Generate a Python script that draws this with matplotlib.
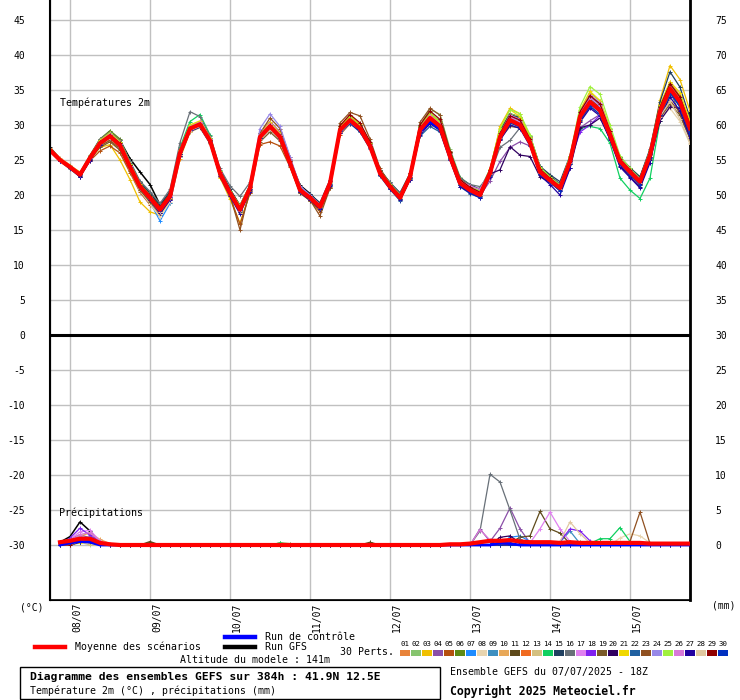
"""GEFS ensemble diagram (Meteociel style): 2m temperature + precipitation."""
import numpy as np
import matplotlib
matplotlib.use("Agg")
import matplotlib.pyplot as plt
from matplotlib.patches import Rectangle
from matplotlib.lines import Line2D

MONO = "DejaVu Sans Mono"
W, H = 740, 700

# time axis: 3-hourly steps from 07/07 18Z (hours since run start)
hours = np.arange(65) * 3.0
day_ticks = [6, 30, 54, 78, 102, 126, 150, 174]
day_labels = ["08/07", "09/07", "10/07", "11/07", "12/07", "13/07", "14/07", "15/07"]

member_colors = ["#e8833a", "#86c46e", "#f0c000", "#8b4fa8", "#b5500f", "#5e8a14",
                 "#1e8cff", "#e8d5b0", "#3e8fc0", "#e8a858", "#5e4a1a", "#f06a20",
                 "#d4c080", "#10d060", "#204060", "#687078", "#e080f0", "#8020f0",
                 "#7a5a28", "#300060", "#f0d800", "#2060a0", "#905020", "#9888e8",
                 "#a0f040", "#d878d8", "#2000a0", "#e0c8a0", "#900000", "#0030c0"]

mean_temp = [26.4, 25.0, 24.0, 22.9, 25.3, 27.4, 28.4, 27.1, 24.0, 21.2, 19.6, 17.9, 19.8,
             26.0, 29.5, 30.1, 27.8, 23.1, 20.3, 17.9, 21.0, 28.3, 29.8, 28.3, 24.6, 20.7,
             19.6, 18.3, 21.7, 29.3, 30.7, 29.5, 27.0, 23.1, 21.2, 19.6, 22.6, 29.3, 31.0,
             29.8, 25.5, 21.7, 20.7, 20.0, 23.1, 28.3, 30.7, 30.0, 27.5, 23.3, 22.1, 21.0,
             24.8, 31.2, 33.3, 32.1, 28.6, 24.8, 23.3, 21.9, 25.7, 31.9, 35.2, 33.3, 29.5]

control_temp = [26.4, 25.0, 24.0, 22.9, 25.3, 27.4, 28.5, 27.2, 24.1, 21.2, 19.5, 17.7, 19.6,
                25.9, 29.5, 30.1, 27.8, 23.1, 20.3, 17.8, 20.9, 28.3, 29.8, 28.3, 24.6, 20.7,
                19.6, 18.3, 21.7, 29.3, 30.7, 29.5, 27.0, 23.1, 21.1, 19.5, 22.5, 29.0, 30.4,
                29.4, 25.3, 21.6, 20.5, 19.9, 23.0, 28.2, 30.6, 29.9, 27.4, 23.2, 22.0, 20.9,
                24.7, 31.0, 33.1, 31.9, 28.5, 24.7, 23.2, 21.8, 25.6, 31.8, 35.0, 33.1, 29.4]

gfs_temp = [26.8, 25.2, 24.0, 23.0, 25.4, 27.9, 28.7, 27.8, 25.2, 23.3, 21.5, 18.6, 20.0,
            26.2, 29.7, 30.3, 28.1, 23.5, 20.8, 18.5, 21.3, 28.4, 30.0, 28.6, 25.0, 21.4,
            20.2, 18.7, 21.9, 29.6, 31.1, 30.0, 27.5, 23.6, 21.5, 19.9, 23.0, 29.8, 31.6,
            30.5, 26.1, 22.4, 21.3, 20.6, 23.6, 29.2, 31.6, 31.1, 28.4, 24.0, 22.7, 21.5,
            25.4, 31.9, 34.1, 32.9, 29.2, 25.3, 23.7, 22.4, 26.2, 32.4, 35.6, 33.7, 29.9]

pert_temp = [
    [26.6, 25.2, 24.1, 23.0, 25.6, 27.8, 28.6, 27.3, 24.3, 21.5, 19.8, 18.2, 20.2, 26.5, 30.0, 30.4, 28.0, 23.4, 20.0, 17.6, 20.6, 28.8, 30.2, 28.6, 24.9, 20.9, 19.8, 18.6, 22.0, 29.8, 31.0, 29.9, 27.3, 23.5, 21.6, 19.9, 23.0, 29.6, 31.5, 30.3, 25.8, 22.0, 21.0, 20.3, 23.6, 28.8, 31.4, 30.6, 27.9, 23.8, 22.5, 21.3, 25.2, 31.8, 34.0, 32.8, 29.2, 25.4, 23.9, 22.5, 26.4, 32.8, 36.1, 34.2, 30.4],
    [26.3, 24.8, 23.8, 22.7, 25.4, 27.9, 29.1, 27.9, 24.8, 21.8, 20.2, 18.5, 20.4, 26.3, 29.8, 30.3, 27.6, 22.9, 20.6, 18.2, 21.2, 28.1, 29.6, 28.2, 24.5, 20.5, 19.4, 18.0, 21.5, 29.6, 31.0, 29.8, 27.2, 23.3, 21.3, 19.8, 22.8, 29.9, 32.3, 31.5, 26.6, 22.6, 21.4, 20.6, 23.5, 29.0, 31.6, 31.2, 28.4, 23.7, 22.4, 21.2, 25.3, 32.0, 34.6, 33.4, 29.6, 25.4, 23.8, 22.6, 26.3, 32.4, 35.6, 33.6, 29.8],
    [26.5, 25.1, 24.2, 23.3, 25.0, 26.8, 27.2, 25.0, 22.2, 19.0, 17.6, 17.1, 18.9, 25.2, 29.0, 29.8, 27.6, 22.5, 19.4, 16.0, 20.3, 28.6, 30.3, 28.9, 25.0, 20.8, 19.5, 18.2, 21.6, 29.5, 30.8, 29.6, 27.1, 23.0, 21.0, 19.3, 22.4, 29.6, 31.4, 30.2, 25.7, 21.8, 20.8, 20.1, 23.3, 29.8, 32.4, 31.6, 28.3, 23.9, 22.6, 21.2, 25.4, 31.8, 34.4, 33.0, 29.0, 25.0, 23.5, 22.0, 26.2, 33.6, 38.5, 36.5, 32.0],
    [26.2, 24.9, 23.9, 22.6, 25.0, 27.2, 28.2, 26.9, 23.9, 21.1, 19.4, 17.6, 19.4, 25.8, 29.7, 30.5, 28.1, 23.3, 20.4, 18.0, 21.3, 28.9, 30.5, 29.0, 25.1, 20.9, 19.8, 18.5, 22.0, 29.5, 31.0, 29.7, 27.2, 23.4, 21.7, 20.3, 22.6, 28.9, 30.8, 29.5, 25.3, 21.5, 20.6, 19.9, 22.0, 24.8, 26.8, 27.6, 27.0, 23.1, 22.0, 20.8, 24.4, 29.6, 30.6, 31.5, 28.8, 24.9, 23.0, 21.5, 25.3, 31.6, 34.6, 33.1, 29.4],
    [26.6, 25.2, 24.0, 22.8, 24.9, 26.3, 27.0, 26.0, 23.2, 20.4, 18.6, 17.2, 19.3, 25.6, 29.2, 29.9, 27.5, 22.6, 19.8, 15.8, 20.3, 27.2, 27.6, 27.0, 24.0, 20.3, 19.2, 17.6, 21.0, 28.6, 30.2, 29.3, 27.0, 23.3, 21.5, 19.8, 22.4, 29.5, 31.3, 30.0, 25.8, 22.0, 21.0, 20.3, 23.4, 28.6, 30.9, 30.2, 27.7, 23.5, 22.3, 21.1, 25.0, 31.3, 33.6, 32.4, 28.9, 24.9, 23.4, 22.0, 25.8, 31.6, 34.6, 32.8, 28.8],
    [26.4, 25.1, 24.1, 23.2, 25.7, 28.0, 29.2, 28.0, 24.6, 21.6, 20.0, 18.4, 20.1, 26.2, 29.7, 30.2, 27.9, 23.2, 20.3, 17.8, 20.9, 28.4, 29.9, 28.4, 24.7, 20.8, 19.7, 18.4, 21.8, 29.2, 30.6, 29.4, 26.9, 23.0, 21.1, 19.5, 22.5, 29.4, 31.2, 30.0, 25.6, 21.8, 20.8, 20.2, 23.3, 28.5, 31.0, 30.3, 27.6, 23.4, 22.2, 21.1, 24.9, 31.4, 33.7, 32.5, 28.8, 24.8, 23.3, 21.9, 25.9, 32.2, 35.4, 33.6, 29.9],
    [26.3, 24.9, 23.9, 22.8, 25.2, 27.3, 28.3, 27.0, 23.9, 20.9, 19.0, 16.3, 18.8, 25.4, 29.3, 30.0, 27.7, 22.9, 20.1, 17.6, 20.8, 28.0, 29.5, 28.0, 24.3, 20.4, 19.3, 18.0, 21.3, 29.0, 30.4, 29.2, 26.8, 22.9, 21.0, 19.3, 22.3, 29.0, 30.6, 29.4, 25.2, 21.4, 20.4, 19.8, 22.8, 28.0, 30.4, 29.8, 27.3, 23.1, 21.9, 20.7, 24.6, 30.8, 33.0, 31.8, 28.3, 24.5, 23.0, 21.6, 25.4, 31.5, 34.7, 32.9, 29.1],
    [26.5, 25.0, 24.0, 22.9, 25.1, 27.1, 28.0, 26.6, 23.5, 20.6, 18.7, 16.9, 19.0, 25.7, 29.2, 29.8, 27.5, 22.8, 20.0, 17.4, 20.6, 27.8, 29.3, 27.9, 24.3, 20.5, 19.3, 18.0, 21.3, 28.8, 30.3, 29.2, 26.8, 22.9, 21.1, 19.4, 22.4, 29.1, 30.8, 29.6, 25.3, 21.6, 20.5, 19.9, 22.9, 28.4, 30.8, 30.1, 27.6, 23.4, 22.2, 20.9, 24.7, 30.6, 32.6, 31.4, 28.0, 24.4, 23.0, 21.5, 25.0, 30.8, 32.4, 30.5, 27.3],
    [26.4, 25.0, 24.1, 22.9, 25.3, 27.5, 28.5, 27.2, 24.1, 21.3, 19.5, 17.5, 19.5, 25.9, 29.4, 30.0, 27.7, 23.0, 20.2, 17.7, 20.9, 28.2, 29.7, 28.2, 24.5, 20.6, 19.4, 18.1, 21.5, 29.1, 30.5, 29.3, 26.9, 22.9, 21.1, 19.4, 22.5, 29.3, 30.9, 29.7, 25.4, 21.6, 20.6, 19.9, 23.0, 28.2, 30.6, 30.0, 27.5, 23.2, 22.0, 20.9, 24.6, 31.0, 33.1, 31.9, 28.5, 24.6, 23.1, 21.7, 25.5, 31.6, 34.8, 32.7, 28.4],
    [26.7, 25.3, 24.3, 23.1, 25.5, 27.6, 28.4, 27.1, 24.2, 21.4, 19.6, 17.8, 19.9, 26.1, 29.6, 30.2, 27.9, 23.2, 20.4, 17.9, 21.1, 28.5, 30.0, 28.5, 24.8, 20.9, 19.8, 18.5, 21.9, 29.4, 30.9, 29.7, 27.2, 23.2, 21.3, 19.7, 22.8, 29.4, 31.1, 29.9, 25.6, 21.8, 20.8, 20.1, 23.2, 28.4, 30.8, 30.2, 27.6, 23.4, 22.2, 21.0, 24.8, 31.3, 33.4, 32.2, 28.7, 24.9, 23.4, 22.0, 25.8, 31.9, 35.0, 33.1, 29.2],
    [26.3, 24.9, 23.8, 22.6, 25.0, 27.4, 28.5, 27.4, 24.5, 21.8, 20.2, 18.6, 20.3, 26.1, 29.5, 30.1, 27.8, 23.2, 20.5, 18.1, 21.2, 28.3, 29.8, 28.4, 24.8, 20.9, 19.8, 18.5, 21.8, 29.4, 31.0, 29.9, 27.4, 23.4, 21.5, 19.9, 22.9, 29.8, 31.6, 30.4, 26.0, 22.1, 21.1, 20.4, 23.5, 29.2, 31.5, 30.8, 28.1, 23.8, 22.5, 21.4, 25.1, 31.6, 33.8, 32.6, 29.1, 25.2, 23.7, 22.3, 26.1, 32.4, 35.6, 33.7, 29.8],
    [26.5, 25.1, 24.0, 23.0, 25.4, 27.6, 28.7, 27.4, 24.3, 21.4, 19.8, 18.1, 20.0, 26.2, 29.7, 30.3, 28.0, 23.3, 20.5, 18.0, 21.0, 28.4, 29.9, 28.4, 24.7, 20.8, 19.7, 18.4, 21.8, 29.3, 30.7, 29.5, 27.0, 23.1, 21.2, 19.6, 22.6, 29.3, 31.0, 29.8, 25.5, 21.7, 20.7, 20.0, 23.1, 28.3, 30.7, 30.0, 27.5, 23.3, 22.1, 21.0, 24.8, 31.2, 33.3, 32.1, 28.6, 24.8, 23.3, 21.9, 25.7, 31.9, 35.2, 33.3, 29.5],
    [26.4, 24.9, 23.9, 22.8, 25.1, 27.0, 27.9, 26.7, 23.7, 20.9, 19.2, 17.5, 19.4, 25.5, 29.0, 29.6, 27.3, 22.7, 19.9, 17.5, 20.6, 27.9, 29.4, 28.0, 24.3, 20.4, 19.3, 18.0, 21.4, 28.9, 30.3, 29.1, 26.7, 22.8, 20.9, 19.3, 22.2, 28.9, 30.6, 29.4, 25.1, 21.4, 20.4, 19.7, 22.8, 27.9, 30.2, 29.6, 27.1, 23.0, 21.8, 20.7, 24.4, 30.7, 32.8, 31.6, 28.2, 24.4, 22.9, 21.5, 25.3, 31.4, 34.6, 32.6, 28.6],
    [26.3, 25.0, 24.0, 22.9, 25.4, 27.7, 28.8, 27.6, 24.4, 21.5, 19.9, 18.2, 20.3, 26.8, 30.5, 31.5, 28.6, 23.6, 20.6, 18.2, 21.2, 28.6, 30.1, 28.6, 24.8, 20.8, 19.6, 18.3, 21.7, 29.3, 30.8, 29.6, 27.1, 23.2, 21.3, 19.8, 22.8, 29.5, 31.3, 30.0, 25.7, 21.9, 20.9, 20.2, 23.3, 28.6, 30.9, 30.3, 27.7, 23.5, 22.2, 21.1, 25.0, 29.5, 29.8, 29.5, 27.4, 22.4, 20.7, 19.5, 22.4, 30.6, 34.4, 33.0, 29.4],
    [26.5, 25.1, 24.1, 23.1, 25.4, 27.5, 28.6, 27.5, 24.6, 21.8, 20.3, 18.6, 20.5, 26.3, 29.8, 30.4, 28.1, 23.5, 20.8, 18.4, 21.4, 28.5, 30.1, 28.7, 25.0, 21.2, 20.1, 18.9, 22.2, 29.5, 31.0, 29.9, 27.4, 23.6, 21.8, 20.3, 23.1, 29.7, 31.5, 30.4, 26.2, 22.4, 21.5, 20.8, 23.6, 29.0, 31.4, 30.9, 28.3, 24.1, 22.9, 21.9, 25.6, 31.9, 34.1, 32.9, 29.4, 25.4, 23.9, 22.6, 26.6, 33.3, 37.6, 35.4, 31.0],
    [26.2, 24.8, 23.7, 22.6, 25.6, 28.0, 29.0, 27.8, 24.8, 22.0, 20.5, 18.8, 20.8, 27.5, 31.9, 31.2, 28.4, 23.8, 21.3, 19.8, 21.8, 28.6, 30.2, 28.7, 24.9, 21.0, 19.9, 18.6, 22.0, 29.5, 31.0, 29.8, 27.4, 23.5, 21.8, 20.2, 22.6, 29.4, 31.0, 29.9, 25.9, 22.4, 21.5, 21.2, 23.0, 26.8, 27.8, 29.6, 27.8, 23.6, 22.6, 21.6, 25.0, 30.8, 33.0, 31.6, 28.2, 24.5, 23.2, 22.0, 25.9, 32.5, 35.0, 31.4, 28.2],
    [26.4, 25.0, 24.0, 22.9, 25.3, 27.6, 28.6, 27.3, 24.2, 21.3, 19.7, 18.0, 19.9, 26.2, 29.9, 30.5, 28.0, 23.2, 20.4, 18.0, 21.1, 28.7, 30.4, 28.8, 25.0, 21.0, 19.9, 18.6, 22.0, 29.5, 31.0, 29.8, 27.3, 23.4, 21.4, 19.8, 22.8, 29.6, 31.4, 30.2, 25.9, 22.0, 21.1, 20.5, 23.4, 28.8, 31.4, 30.8, 28.0, 23.7, 22.4, 21.3, 25.0, 31.6, 33.9, 32.7, 29.0, 25.1, 23.6, 22.2, 26.0, 32.3, 35.5, 33.6, 29.7],
    [26.3, 24.9, 23.9, 22.8, 25.2, 27.3, 28.3, 27.0, 23.9, 21.1, 19.5, 17.8, 19.7, 25.9, 29.4, 30.0, 27.7, 23.0, 20.2, 17.8, 20.9, 28.2, 29.7, 28.2, 24.5, 20.6, 19.5, 18.2, 21.6, 29.2, 30.6, 29.4, 26.9, 23.0, 21.1, 19.5, 22.5, 29.2, 30.9, 29.7, 25.4, 21.6, 20.6, 19.9, 22.9, 28.2, 30.6, 29.9, 27.4, 23.2, 22.0, 20.9, 24.7, 29.0, 30.0, 31.4, 28.2, 24.5, 23.1, 21.7, 25.5, 31.7, 35.0, 33.0, 29.2],
    [26.5, 25.1, 24.1, 23.0, 25.2, 26.8, 27.6, 26.4, 23.5, 20.7, 19.0, 17.4, 19.4, 25.6, 29.1, 29.7, 27.4, 22.7, 20.0, 17.6, 20.6, 27.6, 29.0, 27.7, 24.1, 20.3, 19.2, 17.9, 21.2, 29.0, 30.4, 29.2, 26.8, 22.9, 21.0, 19.4, 22.3, 29.0, 30.7, 29.5, 25.2, 21.5, 20.5, 19.8, 22.9, 28.0, 29.8, 29.6, 27.2, 23.1, 21.9, 20.8, 24.5, 30.6, 32.7, 31.6, 28.2, 24.5, 23.0, 21.6, 25.2, 31.0, 33.0, 31.4, 28.0],
    [26.4, 25.0, 23.9, 22.7, 25.0, 27.2, 28.3, 27.1, 24.1, 21.3, 19.6, 17.8, 19.6, 25.8, 29.3, 29.9, 27.6, 22.9, 20.1, 17.7, 20.7, 28.1, 29.6, 28.1, 24.4, 20.5, 19.3, 18.0, 21.4, 29.0, 30.4, 29.3, 26.9, 23.0, 21.1, 19.5, 22.4, 28.9, 30.5, 29.4, 25.3, 21.6, 20.7, 20.2, 23.0, 23.6, 26.9, 25.7, 25.5, 22.6, 21.8, 20.6, 23.8, 29.6, 30.0, 31.0, 28.0, 24.2, 22.6, 21.2, 25.0, 30.6, 32.6, 32.4, 28.8],
    [26.6, 25.2, 24.2, 23.1, 25.5, 27.8, 28.9, 27.6, 24.5, 21.6, 19.9, 18.1, 20.2, 26.4, 30.0, 30.6, 28.2, 23.4, 20.5, 18.0, 21.2, 28.8, 30.4, 28.8, 24.9, 20.8, 19.6, 18.3, 21.9, 29.8, 31.3, 30.1, 27.5, 23.5, 21.5, 19.9, 23.0, 29.7, 31.6, 30.3, 25.8, 21.8, 20.8, 20.2, 23.7, 29.6, 32.2, 31.2, 28.3, 23.8, 22.4, 21.2, 25.4, 32.1, 34.8, 33.5, 29.5, 25.2, 23.6, 22.2, 26.2, 32.8, 36.2, 34.6, 30.6],
    [26.4, 25.1, 24.1, 22.9, 25.2, 27.4, 28.4, 27.1, 24.0, 21.2, 19.5, 17.7, 19.6, 25.8, 29.3, 29.9, 27.6, 22.9, 20.1, 17.7, 20.8, 28.1, 29.6, 28.1, 24.4, 20.5, 19.4, 18.1, 21.5, 28.9, 30.2, 29.0, 26.6, 22.7, 20.8, 19.2, 22.2, 28.4, 29.8, 29.0, 25.0, 21.2, 20.2, 19.6, 22.7, 28.1, 30.6, 30.0, 27.5, 23.2, 22.0, 20.9, 24.6, 30.9, 33.0, 31.8, 28.4, 24.6, 23.1, 21.7, 25.5, 31.4, 34.5, 32.6, 28.9],
    [26.6, 25.2, 24.1, 23.0, 25.3, 27.0, 27.8, 26.6, 23.8, 21.0, 19.3, 17.5, 19.6, 25.8, 29.3, 29.9, 27.6, 22.9, 20.0, 15.0, 20.8, 28.8, 31.0, 29.5, 25.4, 21.0, 19.3, 17.0, 21.0, 30.3, 31.8, 31.3, 28.0, 23.8, 21.6, 19.5, 22.6, 30.4, 32.4, 31.4, 26.3, 22.2, 21.2, 20.4, 23.5, 28.4, 30.6, 30.0, 27.6, 23.4, 22.2, 21.0, 24.9, 31.0, 33.0, 31.7, 28.3, 24.6, 23.1, 21.6, 25.4, 31.0, 33.5, 31.8, 28.4],
    [26.3, 24.9, 23.9, 22.8, 25.3, 27.5, 28.6, 27.3, 24.2, 21.4, 19.7, 18.0, 20.0, 26.2, 29.7, 30.3, 28.0, 23.3, 20.4, 18.0, 21.4, 29.5, 31.6, 29.8, 25.5, 21.3, 20.0, 18.6, 22.0, 29.5, 30.9, 29.7, 27.2, 23.3, 21.4, 19.8, 22.8, 29.6, 31.3, 30.1, 25.8, 21.9, 20.9, 20.3, 23.4, 28.7, 31.2, 30.6, 27.8, 23.6, 22.3, 21.2, 25.1, 31.6, 34.1, 32.9, 29.1, 25.1, 23.6, 22.2, 26.0, 32.4, 35.7, 33.8, 29.9],
    [26.5, 25.1, 24.1, 23.0, 25.4, 27.7, 28.8, 27.5, 24.4, 21.5, 19.9, 18.2, 20.1, 26.3, 29.8, 30.4, 28.1, 23.4, 20.6, 18.5, 21.4, 28.6, 30.1, 28.6, 24.8, 20.9, 19.8, 18.5, 21.9, 29.6, 31.1, 29.9, 27.4, 23.5, 21.6, 20.0, 23.0, 29.9, 31.8, 30.5, 26.1, 22.2, 21.2, 20.6, 23.7, 29.4, 32.2, 31.6, 28.6, 24.0, 22.6, 21.4, 25.6, 32.6, 35.5, 34.4, 30.0, 25.6, 23.8, 22.3, 26.4, 32.6, 35.9, 33.9, 30.0],
    [26.4, 25.0, 24.0, 22.8, 25.3, 27.6, 28.7, 27.4, 24.2, 21.3, 19.7, 18.0, 20.0, 26.1, 29.7, 30.4, 28.0, 23.3, 20.5, 18.1, 21.2, 28.6, 30.2, 28.6, 24.8, 20.9, 19.8, 18.5, 21.9, 29.4, 30.8, 29.6, 27.1, 23.2, 21.3, 19.7, 22.7, 29.6, 31.3, 30.1, 25.8, 22.1, 21.3, 20.8, 23.4, 28.6, 31.1, 30.4, 27.7, 23.5, 22.2, 21.1, 25.0, 31.8, 34.3, 33.2, 29.2, 25.1, 23.6, 22.2, 26.0, 32.2, 35.4, 33.5, 29.6],
    [26.3, 24.9, 23.8, 22.6, 24.9, 27.2, 28.2, 26.9, 23.9, 21.0, 19.3, 17.4, 19.3, 25.6, 29.1, 29.7, 27.4, 22.7, 19.8, 17.3, 20.5, 28.0, 29.5, 28.0, 24.3, 20.4, 19.3, 18.0, 21.3, 28.9, 30.3, 29.1, 26.7, 22.8, 20.9, 19.3, 22.2, 28.6, 30.2, 29.2, 25.0, 21.2, 20.3, 19.6, 22.6, 27.8, 30.0, 29.5, 27.0, 22.8, 21.5, 20.0, 23.8, 30.4, 32.4, 31.3, 27.9, 24.0, 22.5, 21.0, 24.6, 31.0, 34.0, 32.0, 28.2],
    [26.5, 25.1, 24.0, 22.9, 25.2, 27.3, 28.2, 26.9, 23.8, 21.0, 19.4, 17.6, 19.6, 25.7, 29.2, 29.8, 27.5, 22.9, 20.1, 17.7, 20.8, 28.0, 29.4, 28.0, 24.4, 20.6, 19.5, 18.2, 21.6, 29.0, 30.4, 29.3, 26.9, 23.0, 21.1, 19.5, 22.5, 29.2, 30.9, 29.7, 25.4, 21.6, 20.6, 20.0, 23.0, 28.1, 30.4, 29.8, 27.3, 23.2, 22.0, 20.8, 24.6, 30.8, 32.9, 31.6, 28.2, 24.5, 23.1, 21.7, 25.3, 31.2, 33.4, 30.8, 27.4],
    [26.4, 25.0, 24.0, 23.0, 25.4, 27.6, 28.6, 27.4, 24.3, 21.5, 19.9, 18.3, 20.2, 26.2, 29.6, 30.2, 27.9, 23.3, 20.5, 18.1, 21.2, 28.5, 30.0, 28.5, 24.8, 20.9, 19.8, 18.5, 22.0, 29.9, 31.5, 30.3, 27.6, 23.5, 21.5, 19.9, 23.1, 30.0, 32.0, 30.8, 26.2, 22.2, 21.1, 20.4, 23.6, 28.8, 31.3, 30.7, 28.0, 23.7, 22.4, 21.2, 25.2, 31.9, 34.2, 33.0, 29.2, 25.1, 23.6, 22.1, 26.1, 32.6, 35.9, 34.0, 30.0],
    [26.3, 24.9, 23.9, 22.8, 25.2, 27.3, 28.4, 27.1, 24.0, 21.2, 19.5, 17.8, 19.7, 25.9, 29.4, 30.0, 27.7, 23.0, 20.2, 17.8, 20.9, 28.2, 29.7, 28.2, 24.5, 20.6, 19.5, 18.2, 21.6, 29.1, 30.5, 29.3, 26.8, 22.9, 21.0, 19.4, 22.4, 28.9, 30.4, 29.3, 25.2, 21.4, 20.4, 19.7, 22.8, 28.0, 30.3, 29.7, 27.2, 23.0, 21.8, 20.6, 24.5, 30.7, 32.7, 31.5, 28.2, 24.4, 22.9, 21.5, 25.3, 31.4, 34.7, 32.6, 28.7],
]

# precipitation (mm per 3h step); members only list the non-zero steps
mean_precip = [0.0, 0.4, 0.6, 0.9, 0.9, 0.3, 0.1, 0.0, 0.0, 0.0, 0.0, 0.0, 0.0, 0.0, 0.0,
               0.0, 0.0, 0.0, 0.0, 0.0, 0.0, 0.0, 0.0, 0.0, 0.0, 0.0, 0.0, 0.0, 0.0, 0.0,
               0.0, 0.0, 0.0, 0.0, 0.0, 0.0, 0.0, 0.0, 0.0, 0.0, 0.1, 0.1, 0.2, 0.4, 0.6,
               0.6, 0.7, 0.5, 0.4, 0.4, 0.4, 0.3, 0.4, 0.3, 0.3, 0.3, 0.3, 0.3, 0.3, 0.3,
               0.2, 0.2, 0.2, 0.2, 0.2]
control_precip = {2: 0.3, 3: 0.5, 4: 0.4, 45: 0.3, 46: 0.2}
gfs_precip = {1: 0.4, 2: 1.2, 3: 3.3, 4: 2.0, 5: 0.3, 10: 0.3}
pert_precip = [
    {1: 0.4, 2: 0.9, 3: 1.2, 4: 0.8, 5: 0.2},
    {2: 0.5, 3: 0.8, 4: 0.6},
    {1: 0.2, 2: 0.4, 3: 0.5, 4: 0.3},
    {2: 0.8, 3: 1.5, 4: 1.0, 5: 0.3, 43: 2.3, 44: 0.5, 45: 2.4, 46: 5.3, 47: 2.3, 48: 0.3},
    {3: 0.6, 4: 0.9, 5: 0.4},
    {2: 0.6, 3: 1.0, 4: 0.8, 5: 0.3, 23: 0.3, 24: 0.2},
    {1: 0.3, 3: 0.7, 4: 1.2, 5: 0.3, 46: 1.1, 47: 1.3, 48: 0.5},
    {3: 0.4, 4: 0.6, 57: 1.0, 58: 1.6, 59: 1.3, 60: 0.3},
    {2: 0.3, 3: 0.6, 4: 0.5, 51: 0.4, 52: 2.0, 53: 0.2},
    {3: 1.3, 4: 1.7, 5: 0.8, 6: 0.2},
    {2: 0.4, 3: 0.9, 4: 0.6, 10: 0.5, 32: 0.4, 46: 0.3, 47: 1.1, 48: 1.3, 49: 4.8, 50: 2.3, 51: 1.7, 52: 0.2},
    {3: 0.5, 4: 0.7},
    {2: 0.3, 3: 0.4},
    {3: 0.7, 4: 0.9, 5: 0.2, 23: 0.3, 54: 0.2, 55: 0.9, 56: 0.9, 57: 2.5, 58: 0.5},
    {3: 0.6, 4: 0.4},
    {2: 0.5, 3: 1.0, 4: 0.7, 43: 2.0, 44: 10.1, 45: 9.0, 46: 5.0, 47: 0.8, 48: 0.2},
    {2: 0.8, 3: 1.9, 4: 2.1, 5: 0.6, 48: 0.3, 49: 2.3, 50: 4.7, 51: 2.3, 52: 0.5},
    {2: 1.0, 3: 2.4, 4: 1.4, 5: 0.4, 51: 0.5, 52: 2.3, 53: 2.0, 54: 0.6},
    {3: 0.5, 4: 0.8, 5: 0.2, 52: 0.4, 53: 0.4},
    {3: 0.4, 4: 0.6, 45: 1.1, 46: 1.3, 47: 0.3},
    {3: 0.3, 4: 0.5},
    {2: 0.3, 3: 0.5, 4: 0.7, 5: 0.2},
    {3: 0.5, 4: 0.8, 5: 0.3, 58: 0.5, 59: 4.7, 60: 0.2},
    {2: 0.5, 3: 1.2, 4: 1.0, 5: 0.3},
    {3: 0.6, 4: 0.5, 57: 0.3},
    {2: 0.7, 3: 1.5, 4: 1.8, 5: 0.5, 43: 2.2, 44: 0.7, 45: 0.3},
    {3: 0.4, 4: 0.6},
    {3: 0.6, 4: 0.9, 5: 0.2, 51: 0.5, 52: 3.3, 53: 1.6, 54: 0.3},
    {3: 0.8, 4: 0.9, 5: 0.2},
    {2: 0.3, 3: 0.5, 4: 0.6},
]

PRECIP_ZERO = -30  # 0 mm sits on the -30 line of the left scale


def precip_series(events):
    p = np.zeros(len(hours))
    for step, mm in events.items():
        p[step] = mm
    return p


def fx(px):
    return px / W


def fy(py):
    return 1 - py / H


fig = plt.figure(figsize=(W / 100, H / 100), dpi=100)
ax = fig.add_axes([fx(50), 100 / H, 640 / W, 600 / H])
ax.set_xlim(0, 192)
ax.set_ylim(-265 / 7, 335 / 7)

yt = np.arange(-30, 46, 5)
ax.set_yticks(yt)
ax.set_yticklabels([str(v) for v in yt], fontfamily=MONO, fontsize=7)
ax.set_xticks(day_ticks)
ax.set_xticklabels([])
ax.tick_params(axis="both", length=0)
ax.tick_params(axis="y", pad=18)
ax.grid(True, color="#c0c0c0", lw=1)
ax.set_axisbelow(True)
ax.spines["top"].set_visible(False)
ax.spines["left"].set_linewidth(1.5)
ax.spines["right"].set_linewidth(2)
ax.spines["bottom"].set_linewidth(1.2)

ax2 = ax.twinx()
ax2.set_ylim(ax.get_ylim()[0] + 30, ax.get_ylim()[1] + 30)
ax2.set_yticks(yt + 30)
ax2.set_yticklabels([str(v + 30) for v in yt], fontfamily=MONO, fontsize=7)
ax2.tick_params(axis="y", length=0, pad=18)
ax2.spines["top"].set_visible(False)

# GFS run sits among the members, control and mean on top
ax.plot(hours, gfs_temp, color="black", lw=1.1, marker="+", ms=3, mew=0.6, zorder=3)
ax.plot(hours[1:], precip_series(gfs_precip)[1:] + PRECIP_ZERO, color="black", lw=1.1,
        marker="+", ms=3, mew=0.6, zorder=3)

for temps, pp, c in zip(pert_temp, pert_precip, member_colors):
    assert len(temps) == 65
    ax.plot(hours, temps, color=c, lw=0.9, marker="+", ms=3.2, mew=0.7, zorder=3)
    ax.plot(hours[1:], precip_series(pp)[1:] + PRECIP_ZERO, color=c, lw=0.9,
            marker="+", ms=3.2, mew=0.7, zorder=3)

ax.plot(hours, control_temp, color="#0000ff", lw=1.3, zorder=5)
ax.plot(hours[1:], precip_series(control_precip)[1:] + PRECIP_ZERO, color="#0000ff", lw=2, zorder=5)
ax.plot(hours, mean_temp, color="#ff0000", lw=3, zorder=6)
ax.plot(hours[1:], np.array(mean_precip[1:]) + PRECIP_ZERO, color="#ff0000", lw=3, zorder=6)

ax.axhline(0, color="black", lw=2.2, zorder=7)

fig.text(fx(60), fy(103), "Températures 2m", fontfamily=MONO, fontsize=7.2, va="center")
fig.text(fx(59), fy(513), "Précipitations", fontfamily=MONO, fontsize=7.2, va="center")

# date labels, rotated, just right of each day line
for t, lab in zip(day_ticks, day_labels):
    xpx = 50 + t * 10 / 3 + 7
    fig.text(fx(xpx), fy(603), lab, rotation=90, fontfamily=MONO, fontsize=7,
             ha="center", va="top")

fig.text(fx(20), fy(607), "(°C)", fontfamily=MONO, fontsize=7, va="center")
fig.text(fx(712), fy(606), "(mm)", fontfamily=MONO, fontsize=7, va="center")

# legend
fig.add_artist(Line2D([fx(35), fx(65)], [fy(647), fy(647)], color="#ff0000", lw=3.2))
fig.text(fx(75), fy(647), "Moyenne des scénarios", fontfamily=MONO, fontsize=7.1, va="center")
fig.add_artist(Line2D([fx(225), fx(255)], [fy(637), fy(637)], color="#0000ff", lw=3.2))
fig.text(fx(265), fy(637), "Run de contrôle", fontfamily=MONO, fontsize=7.1, va="center")
fig.add_artist(Line2D([fx(225), fx(255)], [fy(647), fy(647)], color="black", lw=3.2))
fig.text(fx(265), fy(647), "Run GFS", fontfamily=MONO, fontsize=7.1, va="center")
fig.text(fx(340), fy(652), "30 Perts.", fontfamily=MONO, fontsize=7.1, va="center")
fig.text(fx(180), fy(660), "Altitude du modele : 141m", fontfamily=MONO, fontsize=7.1, va="center")

for k, c in enumerate(member_colors):
    x0 = 400 + k * 10.97
    fig.add_artist(Rectangle((fx(x0), fy(656)), 10 / W, 6 / H, transform=fig.transFigure,
                             facecolor=c, edgecolor="none"))
    fig.text(fx(x0 + 5), fy(644), f"{k + 1:02d}", fontfamily=MONO, fontsize=5.3,
             ha="center", va="center")

# title box
fig.add_artist(Rectangle((fx(20), fy(699)), 420 / W, 32 / H, transform=fig.transFigure,
                         facecolor="none", edgecolor="black", lw=1))
fig.text(fx(30), fy(677), "Diagramme des ensembles GEFS sur 384h : 41.9N 12.5E",
         fontfamily=MONO, fontsize=8.2, fontweight="bold", va="center")
fig.text(fx(30), fy(691), "Température 2m (°C) , précipitations (mm)",
         fontfamily=MONO, fontsize=7.1, va="center")
fig.text(fx(450), fy(672), "Ensemble GEFS du 07/07/2025 - 18Z",
         fontfamily=MONO, fontsize=7.1, va="center")
fig.text(fx(450), fy(691), "Copyright 2025 Meteociel.fr",
         fontfamily=MONO, fontsize=8.3, fontweight="bold", va="center")

fig.savefig("out.png", dpi=100)
